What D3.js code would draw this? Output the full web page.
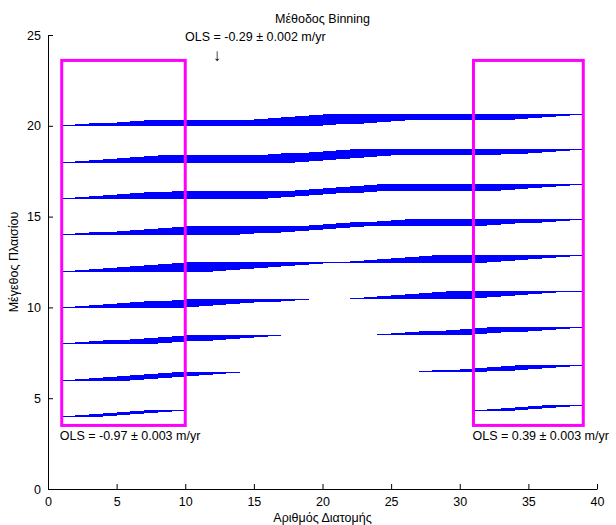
<!DOCTYPE html>
<html>
<head>
<meta charset="utf-8">
<script src="https://cdn.jsdelivr.net/npm/d3@7"></script>
<style>
  body { margin: 0; background: #fff; }
  svg text { font-family: "Liberation Sans", Arial, sans-serif; fill: #000; }
</style>
</head>
<body>
<svg id="chart" width="616" height="525"></svg>
<script>
// Bin sizes (number of consecutive transects per window)
const binSizes = [4, 6, 8, 10, 12, 14, 16, 18, 20];

// First transect of every valid window, per bin size
const starts04 = [1, 2, 3, 4, 5, 6, 7, 31, 32, 33, 34, 35, 36];
const starts06 = [1, 2, 3, 4, 5, 6, 7, 8, 9, 27, 28, 29, 30, 31, 32, 33, 34];
const starts08 = [1, 2, 3, 4, 5, 6, 7, 8, 9, 10, 24, 25, 26, 27, 28, 29, 30, 31, 32];
const starts10 = [1, 2, 3, 4, 5, 6, 7, 8, 9, 10, 22, 23, 24, 25, 26, 27, 28, 29, 30];
const starts12 = [1, 2, 3, 4, 5, 6, 7, 8, 9, 10, 21, 22, 23, 24, 25, 26, 27, 28];
const starts14 = [1, 2, 3, 4, 5, 6, 7, 8, 9, 10, 19, 20, 21, 22, 23, 24, 25, 26];
const starts16 = [1, 2, 3, 4, 5, 6, 7, 8, 9, 18, 19, 20, 21, 22, 23, 24];
const starts18 = [1, 2, 3, 4, 5, 6, 7, 8, 16, 17, 18, 19, 20, 21, 22];
const starts20 = [1, 2, 3, 4, 5, 6, 7, 15, 16, 17, 18, 19, 20];
const windowStarts = [starts04, starts06, starts08, starts10, starts12, starts14, starts16, starts18, starts20];

// Highlighted transect ranges and their OLS rates
const regionX = [[1, 10], [31, 39]];
const regionY = [3.5, 23.6];
const olsLeft = "OLS = -0.97 ± 0.003 m/yr";
const olsAll = "OLS = -0.29 ± 0.002 m/yr";
const olsRight = "OLS = 0.39 ± 0.003 m/yr";

const xTicks = [0, 5, 10, 15, 20, 25, 30, 35, 40];
const yTicks = [0, 5, 10, 15, 20, 25];

const titleText = "Μέθοδος Binning";
const xLabel = "Αριθμός Διατομής";
const yLabel = "Μέγεθος Πλαισίου";

// ---- layout ----
const margin = { left: 48, right: 19, top: 35, bottom: 36 };
const W = 616, H = 525;
const stackGap = 0.05;   // vertical spacing between successive windows of one bin
const fontSize = 12.5;

const svg = d3.select("#chart");
const x = d3.scaleLinear().domain([0, 40]).range([margin.left, W - margin.right]);
const y = d3.scaleLinear().domain([0, 25]).range([H - margin.bottom, margin.top]);

// window segments: one horizontal line per window, nudged upward in order
const segments = [];
binSizes.forEach((b, i) => {
  windowStarts[i].forEach((s, k) => {
    segments.push({ x0: s, x1: s + b - 1, y: b + k * stackGap });
  });
});

svg.append("g")
  .attr("shape-rendering", "crispEdges")
  .selectAll("line")
  .data(segments)
  .join("line")
  .attr("x1", d => x(d.x0))
  .attr("x2", d => x(d.x1))
  .attr("y1", d => y(d.y))
  .attr("y2", d => y(d.y))
  .attr("stroke", "#0000ff")
  .attr("stroke-width", 1);

// highlighted regions
svg.append("g")
  .selectAll("rect")
  .data(regionX)
  .join("rect")
  .attr("x", d => x(d[0]))
  .attr("y", y(regionY[1]))
  .attr("width", d => x(d[1]) - x(d[0]))
  .attr("height", y(regionY[0]) - y(regionY[1]))
  .attr("fill", "none")
  .attr("stroke", "#ff00ff")
  .attr("stroke-width", 3);

// axes (ticks pointing inward)
const xAxis = d3.axisBottom(x).tickValues(xTicks).tickSizeInner(-5).tickSizeOuter(0).tickPadding(8);
const yAxis = d3.axisLeft(y).tickValues(yTicks).tickSizeInner(-5).tickSizeOuter(0).tickPadding(7);

const gx = svg.append("g").attr("transform", `translate(0,${y(0)})`).call(xAxis);
const gy = svg.append("g").attr("transform", `translate(${x(0)},0)`).call(yAxis);
[gx, gy].forEach(g => {
  g.selectAll("text").attr("font-size", fontSize).attr("font-family", null).attr("fill", "#000");
  g.selectAll("line, path").attr("stroke", "#000");
});

// annotations
svg.append("text").attr("x", x(20)).attr("y", 23).attr("text-anchor", "middle")
  .attr("font-size", fontSize).text(titleText);
svg.append("text").attr("x", 185).attr("y", 41).attr("font-size", fontSize).text(olsAll);
svg.append("text").attr("x", 217).attr("y", 61).attr("text-anchor", "middle")
  .attr("font-size", 17).text("↓");
svg.append("text").attr("x", x(regionX[0][0]) - 2).attr("y", 440).attr("font-size", fontSize).text(olsLeft);
svg.append("text").attr("x", x(regionX[1][0]) - 1).attr("y", 440).attr("font-size", fontSize).text(olsRight);

// axis titles
svg.append("text").attr("x", x(20)).attr("y", 522).attr("text-anchor", "middle")
  .attr("font-size", fontSize).text(xLabel);
svg.append("text").attr("transform", `translate(18,${(y(0) + y(25)) / 2}) rotate(-90)`)
  .attr("text-anchor", "middle").attr("font-size", fontSize).text(yLabel);
</script>
</body>
</html>
